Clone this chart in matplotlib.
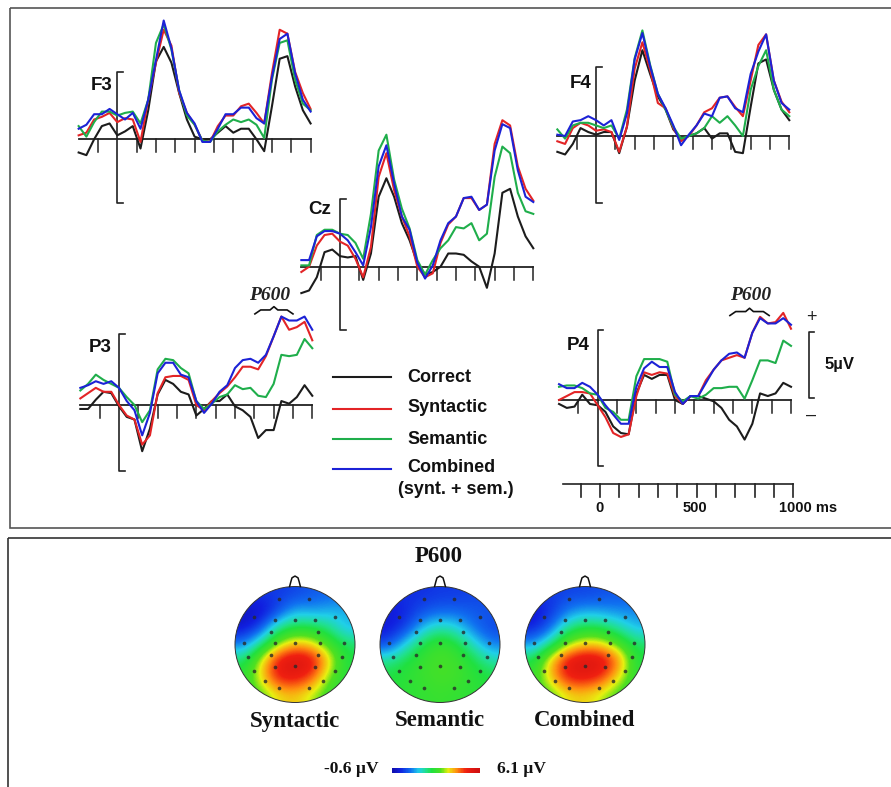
#!/usr/bin/env python3
import numpy as np
import matplotlib
matplotlib.use("Agg")
import matplotlib.pyplot as plt
from matplotlib.colors import LinearSegmentedColormap
from matplotlib.patches import Circle, Rectangle

W, H = 891, 787

# ERP samples every 40 ms, values in microvolts
times = list(range(-200, 1001, 40))

f3_correct = [-1.0,-1.2,0,1.0,1.2,0.3,0.6,1.0,-0.7,2.2,5.9,7.0,5.8,3.5,1.5,0.2,0,0,0.5,1.0,0.5,0.8,0.8,0,-0.9,2.5,6.1,6.3,4.0,2.2,1.2]
f3_syntactic = [0.3,0.5,1.5,1.7,2.0,1.3,1.6,1.5,-0.2,3.0,5.8,8.3,7.1,3.5,2.0,1.1,-0.1,-0.2,1.0,1.8,1.8,2.5,2.7,2.0,1.2,5.0,8.3,8.0,5.1,3.5,2.3]
f3_semantic = [1.0,0.2,1.3,2.1,2.1,1.8,2.0,2.1,1.2,3.0,7.3,8.7,6.8,3.7,1.8,1.1,-0.1,-0.2,0.6,1.1,1.5,1.3,1.5,1.1,0.1,4.5,7.3,7.5,4.5,2.7,2.2]
f3_combined = [0.8,1.1,1.9,1.9,2.3,1.9,1.5,2.0,0.8,3.0,6.0,9.0,6.9,3.7,2.0,1.2,-0.2,-0.2,0.8,1.9,1.9,2.4,2.4,1.6,1.2,4.7,7.6,8.0,5.0,3.0,2.1]

f4_correct = [-1.2,-1.4,-0.6,0.6,0.3,0.1,0.3,0.3,-1.3,0.7,4.2,6.5,4.7,3.0,2.0,0.5,-0.2,0,0.2,0.6,-0.2,0.2,0.2,-1.2,-1.3,2.2,5.5,5.8,3.5,2.0,1.2]
f4_syntactic = [-0.4,-0.6,0.6,1.0,0.8,0.4,0.5,0.3,-1.2,0.7,5.1,7.1,5.0,2.5,2.1,0.6,-0.4,0,0.8,1.8,2.1,2.9,3.0,2.2,1.5,4.2,6.9,7.7,4.2,2.6,1.8]
f4_semantic = [0.5,-0.2,0.8,1.0,1.0,0.8,0.6,0.8,-0.2,2.0,5.9,8.0,5.4,3.2,2.0,0.7,-0.2,0,0.2,0.6,1.5,1.0,1.5,0.8,0,3.5,5.3,6.5,3.5,2.0,1.5]
f4_combined = [0.1,0,1.1,1.2,1.5,1.2,0.8,1.2,-0.3,1.7,5.8,7.8,5.3,3.2,2.1,0.8,-0.7,0.1,0.8,1.7,1.5,2.9,3.0,2.1,1.8,4.7,6.4,7.7,4.2,2.5,2.0]

cz_correct = [-2.0,-1.8,-0.8,1.1,1.3,0.8,0.7,0.8,-1.0,1.0,5.3,6.7,5.3,3.3,2.0,0.3,-0.6,-0.4,0,1.0,1.0,0.9,0.4,0,-1.6,1.0,5.6,5.9,3.8,2.3,1.4]
cz_syntactic = [-0.4,0,1.6,2.4,2.5,1.9,1.6,0.6,-0.8,1.5,6.8,8.6,5.8,3.8,2.3,0,-0.8,-0.5,1.8,3.2,3.8,5.2,5.2,4.3,4.7,9.3,11.1,10.7,7.6,5.9,5.0]
cz_semantic = [0.1,0.1,2.4,2.8,2.8,2.5,2.4,1.8,0.6,4.0,8.8,10.0,6.6,4.4,2.9,0.5,-0.6,0.5,1.4,2.0,3.0,2.9,3.3,2.0,2.5,6.8,9.1,8.6,5.6,4.2,4.0]
cz_combined = [0.5,0.5,2.3,2.7,2.7,2.5,2.0,1.1,0.1,3.0,7.6,9.2,6.3,3.8,2.8,0.3,-0.9,0.1,2.0,3.3,3.8,5.2,5.3,4.3,4.7,8.8,10.8,10.5,7.3,5.3,4.9]

p3_correct = [-0.3,-0.3,0.4,1.0,0.9,-0.1,-0.9,-1.1,-3.5,-1.8,0.8,1.9,1.6,1.0,0.8,-0.8,-0.3,0.3,0.3,0.8,-0.1,-0.4,-0.9,-2.5,-1.9,-1.9,0.3,0.1,0.6,1.5,0.7]
p3_syntactic = [0.5,0.9,1.3,1.0,1.0,0,-0.8,-1.1,-3.0,-2.3,0.9,2.1,2.2,2.2,1.9,0,-0.4,0.3,0.9,1.4,2.1,2.9,2.9,2.7,3.7,5.2,6.7,5.7,5.9,6.3,4.9]
p3_semantic = [1.1,1.6,2.3,1.9,1.6,1.3,0.6,0,-1.3,-0.4,2.7,3.5,3.4,2.8,2.4,0.3,-0.3,0.1,0.6,0.8,1.5,1.2,1.3,0.7,0.6,1.6,3.8,3.7,3.8,5.0,4.3]
p3_combined = [1.3,1.5,1.8,1.6,1.8,1.3,0.3,-0.4,-2.3,-0.6,2.4,3.2,3.2,2.3,2.1,0.3,-0.6,0.1,1.0,1.5,2.8,3.4,3.5,3.2,3.8,5.2,6.7,6.4,6.4,6.7,5.7]

p4_correct = [-0.3,-0.6,-0.5,0.4,-0.3,-0.4,-0.9,-2.0,-2.5,-2.6,0.5,1.9,1.6,1.9,1.9,0,-0.3,0.3,0.3,0.1,-0.1,-0.6,-1.5,-2.0,-3.0,-1.8,0.5,0.3,0.5,1.3,1.0]
p4_syntactic = [0,0.3,0.6,0.6,0.5,-0.4,-1.3,-2.5,-2.8,-2.6,0.3,2.1,1.9,2.1,2.0,0.3,-0.3,0.3,0.3,1.5,2.3,3.0,3.2,3.4,3.2,5.1,6.3,5.8,5.9,6.6,5.4]
p4_semantic = [1.0,1.1,1.1,0.9,0.5,0.4,-0.6,-0.9,-1.5,-1.5,1.8,3.1,3.1,3.1,2.9,0.4,-0.1,0.3,0.1,0.4,0.9,0.9,1.0,1.0,0.1,1.5,3.0,3.0,2.8,4.5,4.1]
p4_combined = [1.2,0.9,0.9,1.3,1.0,0.4,-0.4,-1.1,-1.8,-1.8,1.0,2.4,2.9,2.5,2.5,0.6,-0.3,0.3,0.3,1.3,2.3,3.0,3.5,3.6,3.2,5.1,6.2,5.8,5.8,6.2,5.7]

conditions = ["Correct", "Syntactic", "Semantic", "Combined"]
colors = ["#1c1c1c", "#e32426", "#1fae4b", "#1c22d6"]

# scalp voltage (uV) on a 7 x 7 grid, top row = front of head
map_syntactic = [
    [0.2, 0.2, 0.2, 0.3, 0.5, 0.6, 0.7],
    [-0.4, -0.4, 0.3, 1.2, 1.0, 1.2, 1.2],
    [-0.3, 0.3, 2.0, 2.4, 2.4, 2.0, 1.2],
    [0.8, 2.0, 3.3, 4.1, 3.8, 2.9, 2.2],
    [2.2, 3.6, 5.4, 5.9, 5.6, 3.9, 2.4],
    [2.6, 3.8, 5.3, 5.4, 4.8, 3.2, 2.5],
    [2.8, 3.0, 3.8, 4.0, 3.5, 2.8, 2.6],
]
map_semantic = [
    [0.1, 0.1, 0.1, 0.2, 0.2, 0.3, 0.3],
    [-0.2, 0.0, 0.4, 0.6, 0.6, 0.5, 0.5],
    [-0.2, 0.2, 1.3, 1.8, 1.5, 0.7, 0.3],
    [0.3, 1.5, 2.4, 2.9, 2.5, 1.6, 0.8],
    [2.0, 2.4, 2.8, 3.0, 2.9, 2.4, 1.8],
    [2.4, 2.6, 2.8, 3.0, 2.9, 2.6, 2.4],
    [2.5, 2.6, 2.7, 2.8, 2.7, 2.6, 2.5],
]
map_combined = [
    [0.2, 0.2, 0.3, 0.3, 0.4, 0.5, 0.5],
    [-0.3, 0.1, 0.8, 1.1, 1.0, 0.9, 0.9],
    [-0.1, 0.6, 2.0, 2.4, 2.3, 1.8, 1.2],
    [1.0, 2.0, 3.3, 3.9, 3.8, 3.0, 2.2],
    [2.4, 4.0, 5.5, 5.9, 5.7, 4.5, 2.4],
    [2.7, 4.0, 5.3, 5.4, 5.0, 3.7, 2.6],
    [2.9, 3.0, 3.8, 3.9, 3.5, 2.9, 2.7],
]
map_names = ["Syntactic", "Semantic", "Combined"]

map_colors = [(0.0, "#1010b0"), (0.08, "#1020e0"), (0.2, "#1070f0"), (0.3, "#20d0e8"), (0.38, "#20e090"),
              (0.45, "#20e040"), (0.56, "#50e020"), (0.64, "#e8f010"), (0.74, "#ff9010"), (0.85, "#f02010"),
              (1.0, "#d01010")]
scalp_cmap = LinearSegmentedColormap.from_list("scalp", map_colors)

# electrode positions on the unit head
elec_x = [-0.26, 0.23, -0.69, -0.34, 0, 0.33, 0.67, -0.40, 0.38, -0.85, -0.34, 0, 0.41, 0.82,
          -0.40, 0.39, -0.79, 0.78, -0.34, 0, 0.33, -0.68, 0.67, -0.50, 0.47, -0.26, 0.23]
elec_y = [0.79, 0.79, 0.48, 0.43, 0.43, 0.43, 0.48, 0.22, 0.22, 0.02, 0.02, 0.02, 0.02, 0.02,
          -0.18, -0.18, -0.22, -0.22, -0.39, -0.37, -0.39, -0.45, -0.45, -0.63, -0.63, -0.75, -0.75]
nose_x = [-0.09, -0.07, -0.05, 0.0, 0.05, 0.07, 0.09]
nose_y = [1.0, 1.08, 1.15, 1.18, 1.15, 1.08, 1.0]

PX_PER_MS = 0.1933
PX_PER_UV = 13.2

SANS = "Liberation Sans"
SERIF = "Liberation Serif"

fig = plt.figure(figsize=(W / 100, H / 100), dpi=100, facecolor="white")

# full-figure layer in pixels for frames, legend and labels
page = fig.add_axes([0, 0, 1, 1])
page.set_xlim(0, W)
page.set_ylim(H, 0)
page.axis("off")
# both frames run off the right edge of the picture
page.add_patch(Rectangle((10, 8), 900, 520, fill=False, ec="#555555", lw=1.2))
page.add_patch(Rectangle((8, 538), 900, 260, fill=False, ec="#333333", lw=1.2))


def panel_axes(x_zero, y_base):
    # axes in ms / uV whose origin falls on the given pixel
    t0, t1, v0, v1 = -260.0, 1060.0, -6.0, 11.5
    left = x_zero + t0 * PX_PER_MS
    right = x_zero + t1 * PX_PER_MS
    bottom = y_base - v0 * PX_PER_UV
    top = y_base - v1 * PX_PER_UV
    ax = fig.add_axes([left / W, 1 - bottom / H, (right - left) / W, (bottom - top) / H])
    ax.set_xlim(t0, t1)
    ax.set_ylim(v0, v1)
    ax.axis("off")
    ax.patch.set_alpha(0)
    return ax


def draw_erp(x_zero, y_base, series, top=5.1, low=-4.8):
    ax = panel_axes(x_zero, y_base)
    ax.plot([-200, 1000], [0, 0], color="#222222", lw=1.3)
    for t in range(-100, 1001, 100):
        if t != 0:
            ax.plot([t, t], [0, -1.0], color="#222222", lw=1.1)
    ax.plot([30, 0, 0, 30], [top, top, low, low], color="#222222", lw=1.2)
    for values, c in zip(series, colors):
        ax.plot(times, values, color=c, lw=1.5, solid_joinstyle="round", clip_on=False)
    return ax


def draw_brace(ax, start, end, base, label_t, label_v):
    mid = (start + end) / 2
    ax.plot([start, start + 30, mid - 20, mid, mid + 20, end - 30, end],
            [base, base + 0.3, base + 0.3, base + 0.55, base + 0.3, base + 0.3, base],
            color="#111111", lw=1.2)
    ax.text(label_t, label_v, "P600", family=SERIF, style="italic", weight="bold",
            fontsize=14, ha="center", va="center", color="#222222")


draw_erp(117.3, 139.3, [f3_correct, f3_syntactic, f3_semantic, f3_combined])
draw_erp(596, 136, [f4_correct, f4_syntactic, f4_semantic, f4_combined], top=5.2, low=-5.1)
draw_erp(340, 266.7, [cz_correct, cz_syntactic, cz_semantic, cz_combined])
ax_p3 = draw_erp(119, 405, [p3_correct, p3_syntactic, p3_semantic, p3_combined], top=5.4, low=-5.0)
ax_p4 = draw_erp(597.7, 400, [p4_correct, p4_syntactic, p4_semantic, p4_combined], top=5.3, low=-5.0)
draw_brace(ax_p3, 703, 900, 6.9, 781, 8.3)
draw_brace(ax_p4, 684, 887, 6.4, 789, 7.9)

for name, x, y in [("F3", 91, 86), ("Cz", 308, 210), ("P3", 89, 347), ("F4", 570, 83), ("P4", 567, 345)]:
    page.text(x, y, name, family=SANS, weight="bold", fontsize=13.5, ha="left", va="center", color="#111111")

# time scale under P4
ax_time = panel_axes(600, 484)
ax_time.plot([-190, 1000], [0, 0], color="#222222", lw=1.2)
for t in range(-100, 1001, 100):
    ax_time.plot([t, t], [0, -1.0], color="#222222", lw=1.2)
for t, label, ha in [(0, "0", "center"), (490, "500", "center"), (925, "1000 ms", "left")]:
    ax_time.text(t, -1.8, label, family=SANS, weight="bold", fontsize=10.5, ha=ha, va="center", color="#111111")

# voltage scale bar
page.plot([814, 809, 809, 814], [332, 332, 398, 398], color="#222222", lw=1.2)
page.text(811.5, 317, "+", family=SANS, fontsize=13, ha="center", va="center", color="#222222")
page.text(811.5, 415, "\u2013", family=SANS, fontsize=13, ha="center", va="center", color="#222222")
page.text(825, 365, "5\u00b5V", family=SANS, weight="bold", fontsize=12, ha="left", va="center", color="#111111")

# legend
for name, c, y in zip(conditions, colors, [377, 409, 439, 469]):
    page.plot([333, 391], [y, y], color=c, lw=1.5)
for name, y in zip(conditions, [377, 408, 439, 468]):
    page.text(407, y, name, family=SANS, weight="bold", fontsize=13, ha="left", va="center", color="#111111")
page.text(398, 489.5, "(synt. + sem.)", family=SANS, weight="bold", fontsize=13, ha="left", va="center", color="#111111")

# scalp maps
page.text(439, 556, "P600", family=SERIF, weight="bold", fontsize=16.5, ha="center", va="center", color="#111111")
for grid, name, cx in zip([map_syntactic, map_semantic, map_combined], map_names, [295, 440, 585]):
    rx, ry = 60, 58
    ax = fig.add_axes([(cx - rx) / W, 1 - (644.5 + ry) / H, 2 * rx / W, 2 * ry / H])
    ax.set_xlim(-1, 1)
    ax.set_ylim(-1, 1)
    ax.axis("off")
    im = ax.imshow(np.array(grid), extent=[-1, 1, -1, 1], origin="upper", cmap=scalp_cmap, vmin=-0.6, vmax=6.1,
                   interpolation="bicubic", aspect="auto")
    head = Circle((0, 0), 1, transform=ax.transData, fc="none", ec="#333333", lw=0.7, clip_on=False)
    ax.add_patch(head)
    im.set_clip_path(head)
    ax.scatter(elec_x, elec_y, s=7, color="#2a2a2a", alpha=0.8, linewidths=0, zorder=3)
    ax.plot(nose_x, nose_y, color="#111111", lw=1.1, clip_on=False)
    page.text(cx, 721, name, family=SERIF, weight="bold", fontsize=16.5, ha="center", va="center", color="#111111")

# colour bar
ax_bar = fig.add_axes([392 / W, 1 - 773 / H, 88 / W, 5 / H])
ax_bar.imshow(np.linspace(-0.6, 6.1, 32).reshape(1, -1), cmap=scalp_cmap, vmin=-0.6, vmax=6.1, aspect="auto",
              extent=[-0.6, 6.1, 0, 1])
ax_bar.axis("off")
page.text(378, 769, "-0.6 \u00b5V", family=SERIF, weight="bold", fontsize=12.5, ha="right", va="center", color="#111111")
page.text(497, 769, "6.1 \u00b5V", family=SERIF, weight="bold", fontsize=12.5, ha="left", va="center", color="#111111")

fig.savefig("out.png", dpi=100, facecolor="white")
plt.close(fig)
